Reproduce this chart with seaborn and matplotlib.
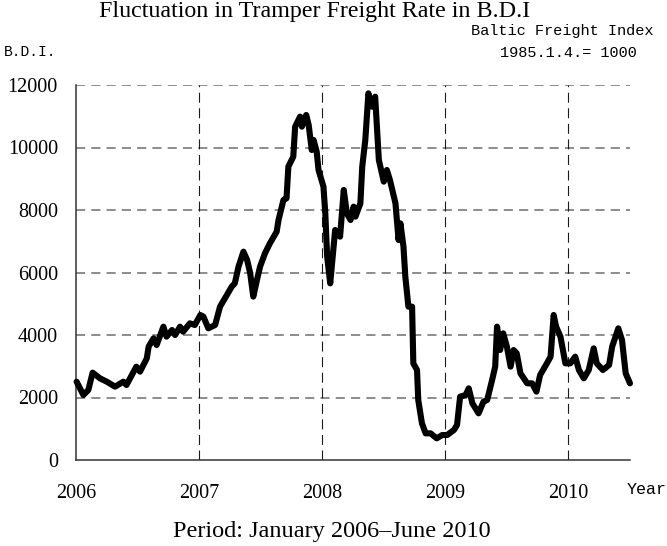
import matplotlib
matplotlib.use("Agg")
import matplotlib.pyplot as plt
import seaborn as sns
import pandas as pd

# ---- data ----
years = [2006.005, 2006.06, 2006.10, 2006.135, 2006.195, 2006.25, 2006.317, 2006.385, 2006.41,
         2006.49, 2006.52, 2006.575, 2006.59, 2006.63, 2006.655, 2006.71, 2006.735, 2006.78,
         2006.805, 2006.845, 2006.87, 2006.925, 2006.965, 2007.01, 2007.035, 2007.075, 2007.13,
         2007.17, 2007.225, 2007.265, 2007.29, 2007.32, 2007.36, 2007.39, 2007.415, 2007.44,
         2007.47, 2007.495, 2007.535, 2007.575, 2007.63, 2007.645, 2007.685, 2007.71, 2007.725,
         2007.765, 2007.78, 2007.82, 2007.835, 2007.87, 2007.89, 2007.915, 2007.93, 2007.955,
         2007.97, 2008.01, 2008.025, 2008.04, 2008.065, 2008.105, 2008.145, 2008.175, 2008.20,
         2008.23, 2008.255, 2008.27, 2008.31, 2008.325, 2008.35, 2008.375, 2008.405, 2008.43,
         2008.46, 2008.485, 2008.50, 2008.525, 2008.55, 2008.595, 2008.62, 2008.635, 2008.66,
         2008.675, 2008.70, 2008.73, 2008.74, 2008.77, 2008.78, 2008.81, 2008.84, 2008.88,
         2008.93, 2008.975, 2009.015, 2009.07, 2009.095, 2009.12, 2009.165, 2009.19, 2009.22,
         2009.27, 2009.31, 2009.34, 2009.38, 2009.405, 2009.42, 2009.445, 2009.47, 2009.50,
         2009.53, 2009.555, 2009.58, 2009.61, 2009.665, 2009.705, 2009.74, 2009.77, 2009.825,
         2009.855, 2009.88, 2009.90, 2009.935, 2009.975, 2010.015, 2010.055, 2010.085, 2010.125,
         2010.165, 2010.205, 2010.23, 2010.28, 2010.33, 2010.355, 2010.405, 2010.435, 2010.465,
         2010.50]
bdi = [2506, 2080, 2240, 2795, 2613, 2506, 2347, 2506, 2400,
       2987, 2827, 3253, 3627, 3893, 3680, 4267, 3947, 4160,
       4000, 4267, 4107, 4373, 4320, 4640, 4587, 4213, 4320,
       4907, 5280, 5547, 5653, 6187, 6667, 6400, 5973, 5227,
       5760, 6187, 6613, 6933, 7307, 7680, 8320, 8373, 9387,
       9707, 10667, 10987, 10667, 11040, 10720, 9920, 10240, 9867,
       9280, 8747, 7893, 6507, 5653, 7360, 7147, 8640, 7893,
       7680, 8107, 7787, 8213, 9387, 10240, 11733, 11307, 11627,
       9600, 9173, 8907, 9280, 8960, 8213, 7040, 7573, 6827,
       5867, 4907, 4907, 3093, 2880, 1920, 1173, 853, 853,
       693, 800, 800, 960, 1120, 2027, 2080, 2293, 1813,
       1493, 1867, 1920, 2560, 2987, 4267, 3520, 4053, 3627,
       2987, 3520, 3413, 2773, 2453, 2453, 2187, 2720, 3093,
       3307, 4640, 4267, 3947, 3093, 3093, 3307, 2880, 2613,
       2880, 3573, 3093, 2880, 3040, 3627, 4213, 3840, 2773,
       2453]
year_ticks = [2006, 2007, 2008, 2009, 2010]
year_labels = ["2006", "2007", "2008", "2009", "2010"]
value_ticks = [0, 2000, 4000, 6000, 8000, 10000, 12000]
value_labels = ["0", "2000", "4000", "6000", "8000", "10000", "12000"]

title = "Fluctuation in Tramper Freight Rate in B.D.I"
ylabel = "B.D.I."
index_name = "Baltic Freight Index"
index_base = "1985.1.4.= 1000"
xlabel = "Year"
period = "Period: January 2006\u2013June 2010"

df = pd.DataFrame({"year": years, "bdi": bdi})

sns.set_theme(style="white")
serif = ["Liberation Serif", "DejaVu Serif"]
mono = ["Liberation Mono", "DejaVu Sans Mono"]

fig = plt.figure(figsize=(6.67, 5.46), dpi=100)
ax = fig.add_axes([76 / 667, 1 - 460 / 546, (630 - 76) / 667, 375 / 546])

# grid lines
for v in value_ticks[1:]:
    ax.axhline(v, color="#6e6e6e", lw=1.1, ls=(0, (6, 4)), zorder=1)
for yv in year_ticks[1:]:
    ax.axvline(yv, ymax=1.0, color="#1a1a1a", lw=0.8, ls=(0, (9, 5)), zorder=1)

sns.lineplot(data=df, x="year", y="bdi", ax=ax, color="black", lw=4.4,
             estimator=None, sort=False, zorder=3, clip_on=False,
             solid_joinstyle="round", solid_capstyle="round")

ax.set_xlim(2006, 2010.5)
ax.set_ylim(0, 12000)
ax.set_xticks(year_ticks)
ax.set_xticklabels(year_labels, fontfamily=serif, fontsize=14.5, color="black")
ax.set_yticks(value_ticks)
ax.set_yticklabels(value_labels, fontfamily=serif, fontsize=14.5, color="black")
ax.tick_params(axis="x", length=0, pad=17)
ax.tick_params(axis="y", length=0, pad=13)
ax.set_xlabel("")
ax.set_ylabel("")
for s in ["top", "right"]:
    ax.spines[s].set_visible(False)
for s in ["left", "bottom"]:
    ax.spines[s].set_color("#333333")
    ax.spines[s].set_linewidth(1.1)
ax.grid(False)

fig.text(315 / 667, 1 - 12 / 546, title, ha="center", va="center",
         fontfamily=serif, fontsize=17.3, color="black")
fig.text(332 / 667, 1 - 532 / 546, period, ha="center", va="center",
         fontfamily=serif, fontsize=17.5, color="black")
fig.text(4 / 667, 1 - 52 / 546, ylabel, ha="left", va="center",
         fontfamily=mono, fontsize=10.5, color="black")
fig.text(562 / 667, 1 - 31 / 546, index_name, ha="center", va="center",
         fontfamily=mono, fontsize=11, color="black")
fig.text(568 / 667, 1 - 53 / 546, index_base, ha="center", va="center",
         fontfamily=mono, fontsize=11, color="black")
fig.text(627 / 667, 1 - 490 / 546, xlabel, ha="left", va="center",
         fontfamily=mono, fontsize=12, color="black")

fig.savefig("out.png", dpi=100)
